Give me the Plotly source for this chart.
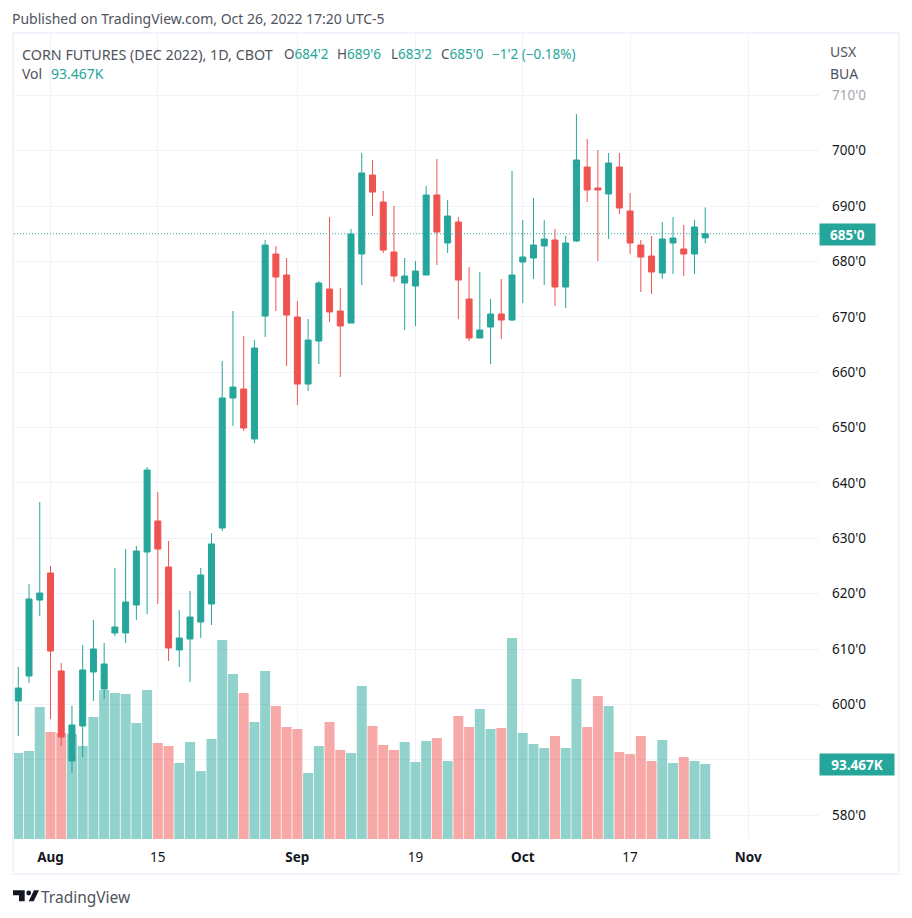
import plotly.graph_objects as go
import pandas as pd

W=904
H=910
FONT="Noto Sans"
GREEN="#26a69a"
RED="#ef5350"
GRID="#f0f3fa"

df=pd.DataFrame({
    "open":[600.63,605.14,618.86,623.74,606.05,589.8,596.12,605.86,602.79,612.91,612.91,617.96,627.53,633.13,624.82,609.84,611.82,614.89,618.14,631.87,655.34,656.96,647.94,670.14,681.34,677.55,669.96,657.86,665.63,675.02,671.05,668.88,681.34,695.6,690.73,681.7,676.1,675.56,677.55,691.99,683.33,687.12,673.21,666.17,668.16,670.51,669.42,679.9,680.62,682.79,683.87,675.38,683.69,697.05,693.26,692.18,697.05,689.11,682.97,680.98,677.91,683.33,682.25,681.34,684.25],
    "high":[606.77,621.75,636.56,625.0,607.5,599.73,610.74,615.25,611.1,624.64,628.07,628.62,642.88,638.37,629.52,617.06,620.49,624.64,630.96,662.02,671.05,666.53,665.81,683.87,682.78,680.62,672.85,669.6,676.46,688.02,675.2,685.85,699.58,698.31,692.72,690.01,680.62,680.08,693.62,698.49,691.09,688.02,678.99,678.09,673.22,676.83,696.33,687.48,691.45,687.48,685.86,684.59,706.62,702.11,700.12,699.58,699.58,692.36,683.87,684.59,687.12,688.02,686.58,687.48,689.75],
    "low":[594.31,603.88,615.98,597.38,592.5,587.63,590.52,600.63,600.99,612.36,611.1,615.25,616.34,618.14,607.85,606.77,604.06,612.0,614.35,631.32,650.28,649.38,647.2,666.35,671.05,661.12,654.07,656.6,661.48,669.06,659.13,668.88,675.74,688.2,681.52,676.28,667.62,668.34,677.55,679.35,681.52,669.6,665.63,666.17,661.48,665.99,669.24,672.49,676.83,675.74,671.95,671.59,683.51,690.73,680.08,684.05,688.56,681.34,674.48,674.12,676.83,677.73,677.37,677.73,683.25],
    "close":[602.97,619.05,620.13,609.65,594.13,596.3,606.23,610.02,607.31,613.99,618.5,627.71,642.34,628.07,610.2,612.0,615.79,623.38,628.98,655.34,657.32,649.93,664.37,682.96,677.19,670.32,657.86,665.81,676.1,670.87,668.34,684.95,695.97,692.53,682.06,677.37,677.37,678.27,691.99,685.31,688.2,676.64,666.17,667.62,670.51,669.42,677.55,680.8,682.97,684.05,675.38,683.33,698.32,692.9,692.9,697.77,689.65,683.33,680.8,678.09,684.05,684.23,681.34,686.22,685.0],
    "volume":[107.2,109.7,164.5,133.3,132.1,130.9,115.9,152.0,185.7,181.9,180.7,144.6,185.7,119.6,115.9,94.7,120.9,84.7,124.6,248.0,205.6,181.9,145.8,209.4,165.7,139.6,137.1,82.3,115.9,145.8,110.9,107.2,190.7,140.8,117.1,110.9,120.9,96.0,122.1,125.9,97.2,153.3,139.6,162.0,137.1,138.3,250.5,132.1,118.4,113.4,128.4,113.4,199.4,139.6,178.2,165.7,108.4,105.9,128.4,97.2,123.4,94.7,102.2,97.2,93.467],
})

#Function to turn picture pixels into paper fractions (the page has a margin of 8)
def px(x):
    return (x-8)/W

def py(y):
    return 1-(y-8)/H

#Function to put a line of text on the page
def add_text(fig,x,y,text,color,size=14):
    fig.add_annotation(x=px(x),y=py(y),xref="paper",yref="paper",text=text,showarrow=False,xanchor="left",yanchor="middle",borderpad=0,borderwidth=0,xshift=-1,font=dict(family=FONT,size=size,color=color))

#Function to put a coloured price tag on the right axis
def add_tag(fig,y,width,text):
    fig.add_annotation(x=px(819),y=py(y),xref="paper",yref="paper",text=text,showarrow=False,xanchor="left",yanchor="middle",width=width,height=21,align="center",bgcolor=GREEN,borderpad=0,font=dict(family=FONT,size=13.5,color="white"))

#Function to draw the chart
def show_fig():
    fig=go.Figure()
    bar_colors=[GREEN if c>=o else RED for o,c in zip(df["open"],df["close"])]
    fig.add_trace(go.Bar(x=df.index,y=df["volume"],marker=dict(color=bar_colors,opacity=0.5,line=dict(width=0)),yaxis="y"))
    fig.add_trace(go.Candlestick(x=df.index,open=df["open"],high=df["high"],low=df["low"],close=df["close"],yaxis="y2",whiskerwidth=0,
        increasing=dict(line=dict(color=GREEN,width=1),fillcolor=GREEN),decreasing=dict(line=dict(color=RED,width=1),fillcolor=RED)))

    price_ticks=list(range(580,711,10))
    price_text=[str(p)+"'0" for p in price_ticks]
    price_text[-1]="<span style='color:#a3a6af'>710'0</span>"
    price_text[1]="" #hidden by the volume tag

    fig.update_layout(width=W,height=H,margin=dict(l=0,r=0,t=0,b=0),paper_bgcolor="white",plot_bgcolor="white",showlegend=False,bargap=0.07,boxgap=0.2,
        font=dict(family=FONT,size=13.5,color="#131722"),
        xaxis=dict(domain=[px(14),px(819)],range=[-0.4,74.6],rangeslider=dict(visible=False),
            tickmode="array",tickvals=[3,13,26,37,47,57,68],
            ticktext=["<b>Aug</b>","15","<b>Sep</b>","19","<b>Oct</b>","17","<b>Nov</b>"],
            showgrid=True,gridcolor=GRID,gridwidth=1,zeroline=False,showline=False,ticks="",ticklabelstandoff=8,tickangle=0),
        yaxis=dict(domain=[py(839),py(34)],range=[0,1003.3],visible=False,showgrid=False,fixedrange=True),
        yaxis2=dict(overlaying="y",side="right",anchor="x",range=[575.71,721.07],tickmode="array",tickvals=price_ticks,ticktext=price_text,
            showgrid=True,gridcolor=GRID,gridwidth=1,zeroline=False,showline=False,ticks="",ticklabelstandoff=12))

    #frame around the chart
    fig.add_shape(type="rect",xref="paper",yref="paper",x0=px(13),x1=px(899),y0=py(33),y1=py(874),line=dict(color=GRID,width=2),layer="below")
    #last price line
    fig.add_shape(type="line",xref="paper",yref="y2",x0=px(14),x1=px(819),y0=df["close"].iloc[-1],y1=df["close"].iloc[-1],line=dict(color=GREEN,width=1,dash="1px,2px"))

    #logo at the bottom
    logo=[[(13,890.3),(24.7,890.3),(24.7,901.3),(19,901.3),(19,895.3),(13,895.3)],[(34,890.3),(39,890.3),(33.7,901.3),(28.7,901.3)]]
    for part in logo:
        path="M "+" L ".join(str(px(a))+" "+str(py(b)) for a,b in part)+" Z"
        fig.add_shape(type="path",xref="paper",yref="paper",path=path,fillcolor="#131722",line=dict(width=0))
    fig.add_shape(type="circle",xref="paper",yref="paper",x0=px(26.3),x1=px(31.1),y0=py(895.4),y1=py(890.6),fillcolor="#131722",line=dict(width=0))

    add_text(fig,13,18.5,"Published on TradingView.com, Oct 26, 2022 17:20 UTC-5","#50535e")
    add_text(fig,23,54,"CORN FUTURES (DEC 2022), 1D, CBOT","#50535e",14.3)
    add_text(fig,23,74,"Vol","#50535e")
    add_text(fig,52,74,"93.467K",GREEN)
    for x,label,value in [(285,"O","684'2"),(338,"H","689'6"),(392,"L","683'2"),(442,"C","685'0")]:
        add_text(fig,x,54,"<span style='color:#50535e'>"+label+"</span>"+value,GREEN,13.5)
    add_text(fig,493,54,"\u22121'2 (\u22120.18%)",GREEN,13.5)
    add_text(fig,831,51,"USX","#50535e")
    add_text(fig,831,74,"BUA","#50535e")
    add_text(fig,42,897,"TradingView","#50535e",15.5)

    add_tag(fig,234.5,55,"<b>685'0</b>")
    add_tag(fig,764.5,74,"<b>93.467K</b>")

    fig.write_html("out.html")

show_fig()
